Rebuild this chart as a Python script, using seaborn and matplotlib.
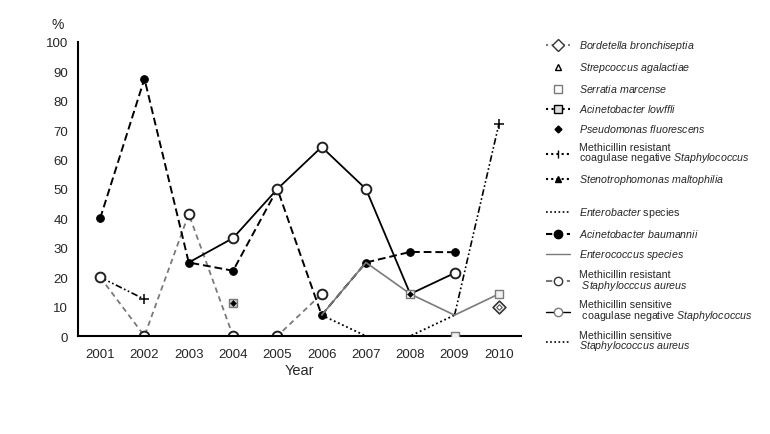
import numpy as np
import pandas as pd
import matplotlib
matplotlib.use("Agg")
import matplotlib.pyplot as plt
from matplotlib.lines import Line2D
import seaborn as sns

nan = np.nan
years = [2001, 2002, 2003, 2004, 2005, 2006, 2007, 2008, 2009, 2010]

# % resistance per organism
a_baumannii = [40, 87.5, 25, 22.2, 50, 7.1, 25, 28.6, 28.5, nan]
ms_cns = [nan, nan, 25, 33.3, 50, 64.3, 50, 14.3, 21.4, nan]
mrsa = [20, 0, 41.5, 0, 0, 14.3, nan, nan, nan, nan]
mr_cns = [20, 12.5, nan, nan, nan, nan, nan, nan, 7.1, 72]
enterococcus = [nan, nan, nan, nan, nan, 7.1, 25, 14.3, 7.1, 14.3]
enterobacter = [nan, nan, nan, nan, nan, 7.1, 0, 0, 7.1, nan]
serratia = [nan, nan, nan, nan, nan, nan, nan, 14.3, 0, 14.3]
a_lowffli = [nan, nan, nan, 11.1, nan, nan, nan, nan, nan, nan]
p_fluorescens = [nan, nan, nan, 11.1, nan, nan, nan, 14.3, nan, nan]
bordetella = [nan, nan, nan, nan, nan, nan, nan, nan, nan, 10]

sns.set_style("white")
plt.rcParams["font.family"] = ["Liberation Sans", "DejaVu Sans"]
plt.rcParams["mathtext.fontset"] = "custom"
plt.rcParams["mathtext.rm"] = "Liberation Sans"
plt.rcParams["mathtext.it"] = "Liberation Sans:italic"

fig = plt.figure(figsize=(7.7, 4.35), dpi=100)
ax = fig.add_axes([78 / 770, 1 - 337 / 435, 443 / 770, 294 / 435])

pos = np.arange(len(years))


def runs(values):
    # split a series into contiguous non-missing pieces so gaps stay gaps
    s = pd.Series(values, index=pos)
    grp = s.isna().cumsum()
    return [part for _, part in s[s.notna()].groupby(grp[s.notna()])]


def draw(values, **kw):
    for part in runs(values):
        sns.lineplot(x=part.index, y=part.values, ax=ax, **kw)


grey = "#7a7a7a"
draw(mr_cns, color="black", lw=1.2, dashes=(4, 1.5, 1, 1.5, 1, 1.5),
     marker="+", ms=7, mec="black", mew=1.1, markevery=[1])
draw(mrsa, color=grey, lw=1.3, dashes=(3, 2.2), marker="o", ms=7,
     mfc="white", mec="#222222", mew=1.4)
draw(enterobacter, color="black", lw=1.3, dashes=(1, 1.5))
draw(a_baumannii, color="black", lw=1.4, dashes=(4, 2), marker="o", ms=5.5,
     mfc="black", mec="black")
draw(ms_cns, color="black", lw=1.3, marker="o", ms=7, mfc="white",
     mec="#222222", mew=1.4, markevery=[1, 2, 3, 4, 6])
draw(enterococcus, color=grey, lw=1.2)
sns.scatterplot(x=pos, y=serratia, ax=ax, marker="s", s=38,
                facecolor="#f2f2f2", edgecolor=grey, linewidth=1.0, zorder=4)
sns.scatterplot(x=pos, y=a_lowffli, ax=ax, marker="s", s=38,
                facecolor="#cfcfcf", edgecolor=grey, linewidth=1.0, zorder=4)
sns.scatterplot(x=pos, y=p_fluorescens, ax=ax, marker="D", s=10,
                color="black", edgecolor="black", zorder=5)
sns.scatterplot(x=pos, y=bordetella, ax=ax, marker="D", s=42,
                facecolor="white", edgecolor="#333333", linewidth=1.2, zorder=4)
sns.scatterplot(x=pos, y=bordetella, ax=ax, marker="D", s=8,
                facecolor="white", edgecolor="#555555", linewidth=0.8, zorder=5)

ax.set_xlim(-0.5, len(years) - 0.5)
ax.set_ylim(0, 100)
ax.set_yticks(range(0, 101, 10))
ax.set_xticks(pos)
ax.set_xticklabels([str(y) for y in years])
ax.set_xticks(np.arange(-0.5, len(years)), minor=True)
ax.tick_params(axis="x", which="major", length=0, pad=9, labelsize=9.5)
ax.tick_params(axis="x", which="minor", length=7, width=1.3, direction="out",
               color="black")
ax.tick_params(axis="y", length=5, width=1.3, direction="out", labelsize=9.5,
               color="black", pad=2)
for side in ["top", "right"]:
    ax.spines[side].set_visible(False)
for side in ["left", "bottom"]:
    ax.spines[side].set_color("black")
    ax.spines[side].set_linewidth(1.5)
ax.set_xlabel("Year", fontsize=10.5, labelpad=2)
ax.set_ylabel("")
fig.text(58 / 770, 1 - 25 / 435, "%", fontsize=10, ha="center", va="center")


def it(s):
    return r"$\mathit{" + s.replace(" ", r"\ ") + "}$"


handles_a = [
    Line2D([], [], color=grey, ls=":", marker="D", ms=6, mfc="white", mec="#333333"),
    Line2D([], [], ls="none", marker="^", ms=5, mfc="white", mec="black"),
    Line2D([], [], ls="none", marker="s", ms=6, mfc="white", mec=grey),
    Line2D([], [], color="black", ls=":", marker="s", ms=6, mfc="#dddddd", mec="black"),
    Line2D([], [], ls="none", marker="D", ms=3.5, color="black"),
    Line2D([], [], color="black", dashes=(1, 1.5), marker="|", ms=6),
    Line2D([], [], color="black", dashes=(1, 1.5), marker="^", ms=5, mfc="black", mec="black"),
]
labels_a = [
    it("Bordetella bronchiseptia"),
    it("Strepcoccus agalactiae"),
    it("Serratia marcense"),
    it("Acinetobacter lowffli"),
    it("Pseudomonas fluorescens"),
    "Methicillin resistant\ncoagulase negative " + it("Staphylococcus"),
    it("Stenotrophomonas maltophilia"),
]
handles_b = [
    Line2D([], [], color="black", lw=1.2, dashes=(1, 1.5)),
    Line2D([], [], color="black", dashes=(3, 2), marker="o", ms=6, mfc="black"),
    Line2D([], [], color=grey, lw=1.0),
    Line2D([], [], color=grey, dashes=(3, 2), marker="o", ms=6, mfc="white", mec="#333333"),
    Line2D([], [], color="black", lw=1.0, marker="o", ms=6, mfc="white", mec=grey),
    Line2D([], [], color="black", lw=1.2, dashes=(1, 1.5)),
]
labels_b = [
    it("Enterobacter") + " species",
    it("Acinetobacter baumannii"),
    it("Enterococcus species"),
    "Methicillin resistant\n " + it("Staphylocccus aureus"),
    "Methicillin sensitive\n coagulase negative " + it("Staphylococcus"),
    "Methicillin sensitive\n" + it("Staphylococcus aureus"),
]
legend_kw = dict(loc="upper left", frameon=False, fontsize=7.7, handlelength=2.2,
                 handletextpad=0.9, handleheight=0.3, labelspacing=0.74,
                 borderaxespad=0)
for hs, ls, top in [(handles_a, labels_a, 35), (handles_b, labels_b, 202)]:
    leg = fig.legend(hs, ls, bbox_to_anchor=(542 / 770, 1 - top / 435), **legend_kw)
    for t in leg.get_texts():
        t.set_linespacing(0.85)

fig.savefig("out.png", dpi=100)
